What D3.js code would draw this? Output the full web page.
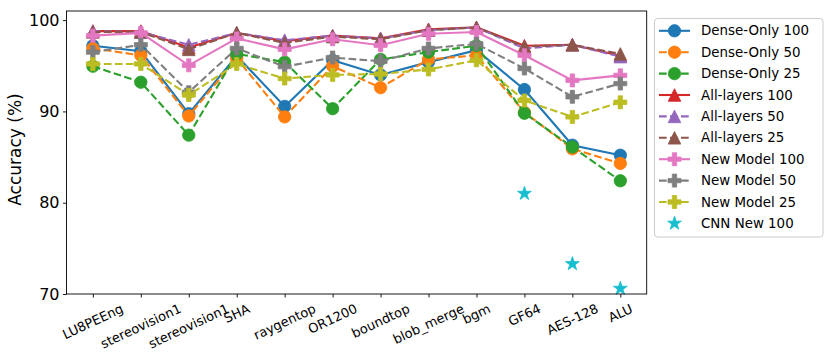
<!DOCTYPE html>
<html><head><meta charset="utf-8">
<script src="https://cdn.jsdelivr.net/npm/d3@7"></script>
<style>body{margin:0;background:#fff;} svg{display:block;font-family:"DejaVu Sans",sans-serif;}</style>
</head><body>
<svg id="c" width="831" height="363"></svg>
<script>
const categories = ["LU8PEEng","stereovision1","stereovision1","SHA","raygentop","OR1200","boundtop","blob_merge","bgm","GF64","AES-128","ALU"];
const yTicks = [70, 80, 90, 100];
const denseOnly100 = [97.2, 96.6, 89.75, 96.1, 90.55, 95.6, 94.0, 95.4, 96.7, 92.4, 86.3, 85.2];
const denseOnly50  = [96.9, 96.15, 89.5, 95.8, 89.4, 94.95, 92.6, 95.7, 96.15, 89.9, 85.9, 84.3];
const denseOnly25  = [94.95, 93.2, 87.4, 96.3, 95.4, 90.3, 95.7, 96.5, 97.2, 89.8, 86.1, 82.4];
const allLayers100 = [98.8, 98.8, 97.0, 98.6, 97.7, 98.3, 98.0, 99.0, 99.2, 97.2, 97.3, 96.1];
const allLayers50  = [98.8, 98.7, 97.3, 98.6, 97.8, 98.3, 98.0, 98.9, 99.2, 96.9, 97.3, 96.0];
const allLayers25  = [98.7, 98.7, 96.8, 98.6, 97.5, 98.2, 97.9, 98.9, 99.2, 97.1, 97.3, 96.3];
const newModel100  = [98.3, 98.6, 95.05, 98.0, 96.8, 97.9, 97.25, 98.5, 98.7, 96.15, 93.4, 93.95];
const newModel50   = [96.5, 97.3, 92.1, 96.9, 94.9, 95.9, 95.5, 96.9, 97.4, 94.7, 91.6, 93.05];
const newModel25   = [95.2, 95.2, 91.8, 95.2, 93.6, 94.0, 94.1, 94.6, 95.6, 91.2, 89.4, 91.0];
const cnnNew100    = [null, null, null, null, null, null, null, null, null, 81.0, 73.3, 70.6];

const series = [
  {name:"Dense-Only 100", values:denseOnly100, color:"#1f77b4", dash:false, marker:"circle"},
  {name:"Dense-Only 50",  values:denseOnly50,  color:"#ff7f0e", dash:true,  marker:"circle"},
  {name:"Dense-Only 25",  values:denseOnly25,  color:"#2ca02c", dash:true,  marker:"circle"},
  {name:"All-layers 100", values:allLayers100, color:"#d62728", dash:false, marker:"triangle"},
  {name:"All-layers 50",  values:allLayers50,  color:"#9467bd", dash:true,  marker:"triangle"},
  {name:"All-layers 25",  values:allLayers25,  color:"#8c564b", dash:true,  marker:"triangle"},
  {name:"New Model 100",  values:newModel100,  color:"#e377c2", dash:false, marker:"plus"},
  {name:"New Model 50",   values:newModel50,   color:"#7f7f7f", dash:true,  marker:"plus"},
  {name:"New Model 25",   values:newModel25,   color:"#bcbd22", dash:true,  marker:"plus"},
  {name:"CNN New 100",    values:cnnNew100,    color:"#17becf", dash:null,  marker:"star"}
];

const svg = d3.select("#c");
const L = 66.5, R = 646.7, T = 11, B = 294;
const x = d3.scaleLinear().domain([-0.55, categories.length - 1 + 0.55]).range([L, R]);
const y = d3.scaleLinear().domain([70, 101]).range([B, T]);

function markerPath(type) {
  if (type === "circle") { const r = 6.2; return `M${r},0A${r},${r} 0 1,1 ${-r},0A${r},${r} 0 1,1 ${r},0Z`; }
  if (type === "triangle") { const s = 6.3; return `M0,${-s}L${-s},${s}L${s},${s}Z`; }
  if (type === "plus") {
    const u = 13 / 6, pts = [[-1,-3],[1,-3],[1,-1],[3,-1],[3,1],[1,1],[1,3],[-1,3],[-1,1],[-3,1],[-3,-1],[-1,-1]];
    return "M" + pts.map(p => (p[0]*u) + "," + (p[1]*u)).join("L") + "Z";
  }
  if (type === "star") {
    const Ro = 7.3, Ri = Ro * 0.381966; let p = [];
    for (let i = 0; i < 10; i++) { const a = -Math.PI/2 + i * Math.PI / 5; const r = i % 2 ? Ri : Ro; p.push([r*Math.cos(a), r*Math.sin(a)]); }
    return "M" + p.map(d => d[0].toFixed(2) + "," + d[1].toFixed(2)).join("L") + "Z";
  }
}

// axes ticks
const yAxis = d3.axisLeft(y).tickValues(yTicks).tickSize(3.5).tickPadding(3.5);
const gy = svg.append("g").attr("transform", `translate(${L},0)`).call(yAxis);
gy.select(".domain").remove();
gy.selectAll("text").attr("font-size", 16).attr("font-family", "DejaVu Sans").attr("fill", "#000");
gy.selectAll("line").attr("stroke", "#000").attr("stroke-width", 0.9);

const xAxis = d3.axisBottom(x).tickValues(d3.range(categories.length)).tickSize(3.5).tickFormat("");
const gx = svg.append("g").attr("transform", `translate(0,${B})`).call(xAxis);
gx.select(".domain").remove();
gx.selectAll("line").attr("stroke", "#000").attr("stroke-width", 0.9);

// rotated x tick labels (centered, rotation 25deg)
const deg = 25, ang = deg * Math.PI / 180;
categories.forEach((c, i) => {
  const t = svg.append("text").text(c).attr("font-size", 13).attr("text-anchor", "middle")
    .attr("dominant-baseline", "central").attr("fill", "#000");
  const bb = t.node().getBBox();
  const H = bb.width * Math.sin(ang) + bb.height * 0.85 * Math.cos(ang);
  t.attr("transform", `translate(${x(i)},${302 + H/2}) rotate(${-deg})`);
});

// y label
svg.append("text").text("Accuracy (%)").attr("font-size", 17).attr("text-anchor", "middle")
  .attr("dominant-baseline", "central").attr("transform", `translate(15,${(T+B)/2 - 3}) rotate(-90)`);

// series
const plot = svg.append("g");
series.forEach(s => {
  const g = plot.append("g");
  const pts = s.values.map((v, i) => ({i, v})).filter(d => d.v != null);
  if (s.dash !== null) {
    g.append("path").datum(pts)
      .attr("d", d3.line().x(d => x(d.i)).y(d => y(d.v)))
      .attr("fill", "none").attr("stroke", s.color).attr("stroke-width", 2.1)
      .attr("stroke-dasharray", s.dash ? "7.7,3.3" : null);
  }
  g.selectAll("path.m").data(pts).enter().append("path").attr("class", "m")
    .attr("d", markerPath(s.marker))
    .attr("transform", d => `translate(${x(d.i)},${y(d.v)})`)
    .attr("fill", s.color).attr("stroke", s.color).attr("stroke-width", 0.8);
});

// frame
svg.append("rect").attr("x", L).attr("y", T).attr("width", R - L).attr("height", B - T)
  .attr("fill", "none").attr("stroke", "#000").attr("stroke-width", 0.9);

// legend
const lg = svg.append("g");
lg.append("rect").attr("x", 654.5).attr("y", 18.5).attr("width", 168.5).attr("height", 218.5)
  .attr("rx", 3).attr("fill", "#fff").attr("fill-opacity", 0.8).attr("stroke", "#ccc").attr("stroke-width", 1);
series.forEach((s, k) => {
  const yy = 30.8 + k * 21.4;
  if (s.dash !== null) {
    lg.append("line").attr("x1", 659).attr("x2", 690).attr("y1", yy).attr("y2", yy)
      .attr("stroke", s.color).attr("stroke-width", 2.1).attr("stroke-dasharray", s.dash ? "7.7,3.3" : null);
  }
  lg.append("path").attr("d", markerPath(s.marker)).attr("transform", `translate(674.5,${yy})`)
    .attr("fill", s.color).attr("stroke", s.color).attr("stroke-width", 0.8);
  lg.append("text").text(s.name).attr("x", 701).attr("y", yy).attr("dominant-baseline", "central")
    .attr("font-size", 13.4).attr("fill", "#000");
});
</script>
</body></html>
